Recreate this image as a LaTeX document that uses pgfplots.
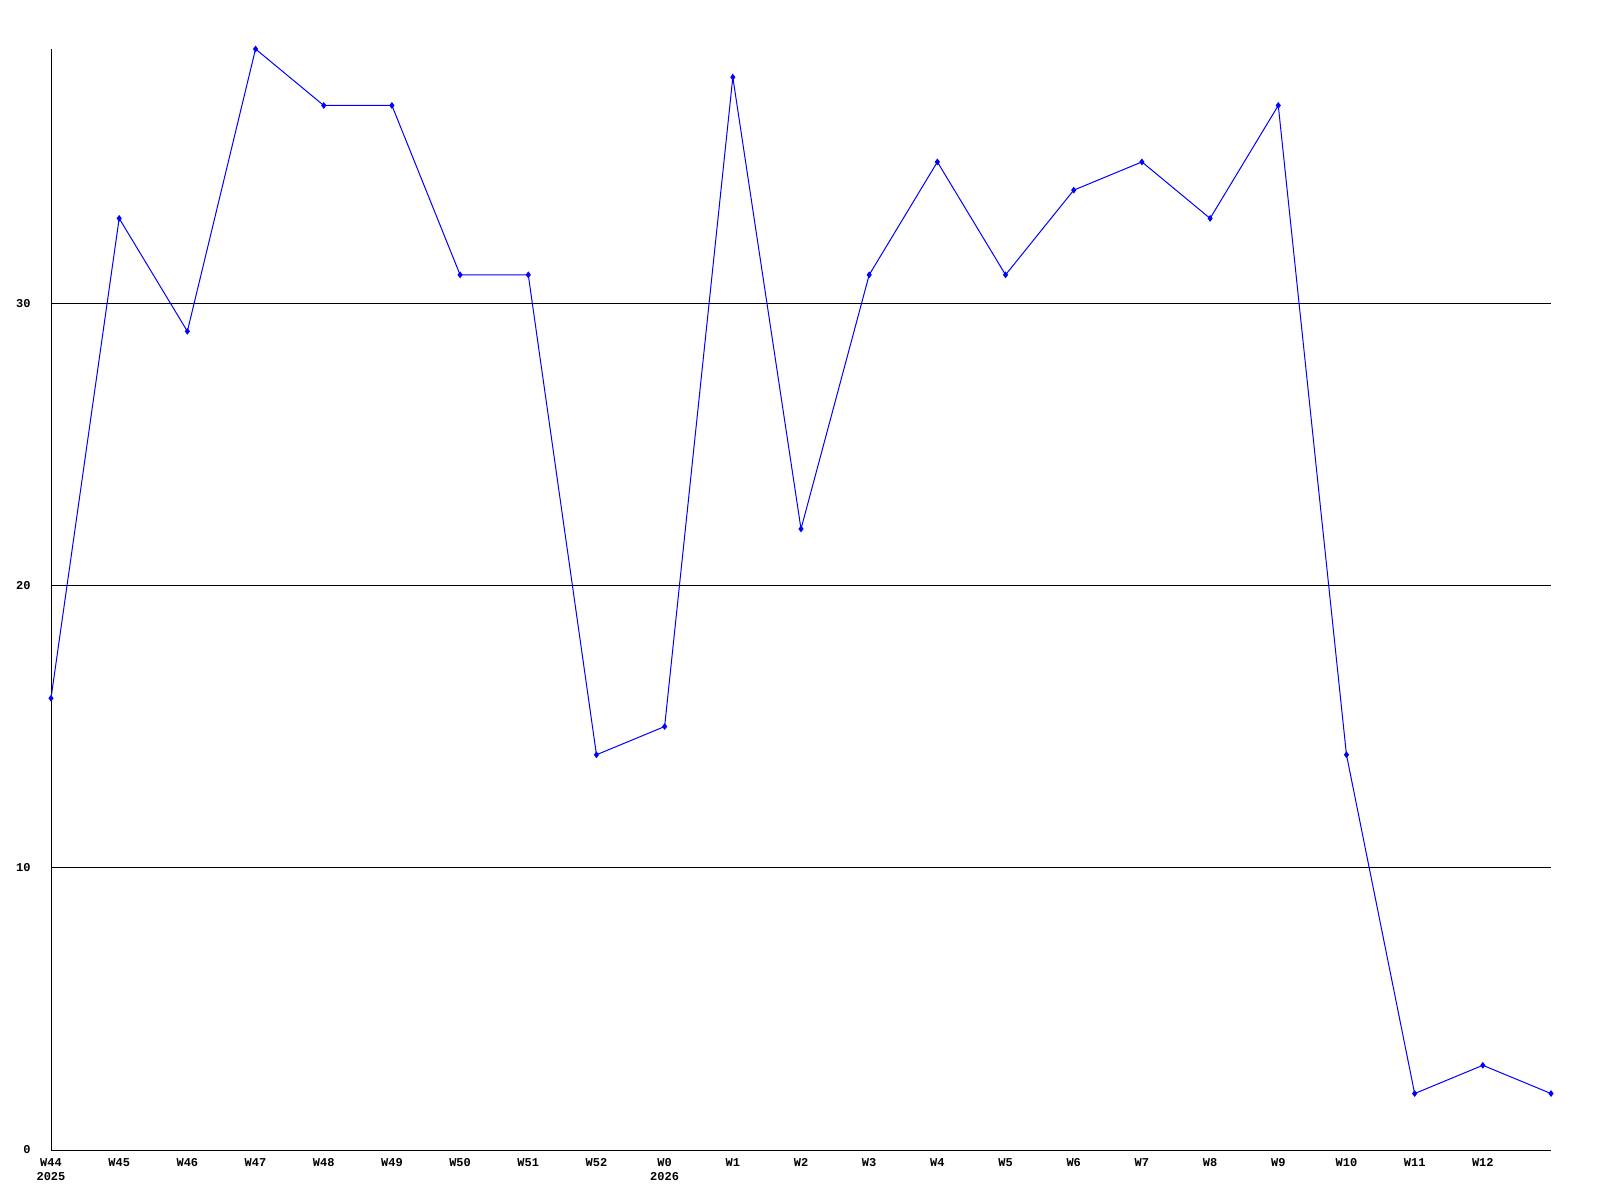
\documentclass[border=0pt]{standalone}
\usepackage{fontspec}
\setmainfont{Liberation Mono}
\usepackage{pgfplots}
\pgfplotsset{compat=1.18}
\begin{document}
\begin{tikzpicture}
\useasboundingbox (-25.5pt,-25pt) rectangle (774.5pt,575pt);
\begin{axis}[
  at={(0,0)}, anchor=south west,
  scale only axis, width=750pt, height=550.5pt,
  xmin=0, xmax=22, ymin=0, ymax=39,
  axis x line=bottom, axis y line=left,
  axis line style={black, line width=0.5pt, -},
  xtick={0,...,21},
  xticklabels={{W44\\2025},W45,W46,W47,W48,W49,W50,W51,W52,{W0\\2026},W1,W2,W3,W4,W5,W6,W7,W8,W9,W10,W11,W12},
  ytick={0,10,20,30},
  major tick length=0pt,
  ymajorgrids, grid style={black, line width=0.5pt},
  /pgf/number format/assume math mode=true,
  tick label style={font=\fontsize{6}{7}\selectfont\bfseries},
  xticklabel style={align=center, anchor=north, inner sep=0pt, yshift=-4pt},
  yticklabel style={anchor=east, inner sep=0pt, xshift=-10pt},
]
\addplot[blue, line width=0.5pt, mark=diamond*, mark size=1.3pt] coordinates {
(0,16) (1,33) (2,29) (3,39) (4,37) (5,37) (6,31) (7,31) (8,14) (9,15)
(10,38) (11,22) (12,31) (13,35) (14,31) (15,34) (16,35) (17,33) (18,37)
(19,14) (20,2) (21,3) (22,2)
};
\end{axis}
\end{tikzpicture}
\end{document}
